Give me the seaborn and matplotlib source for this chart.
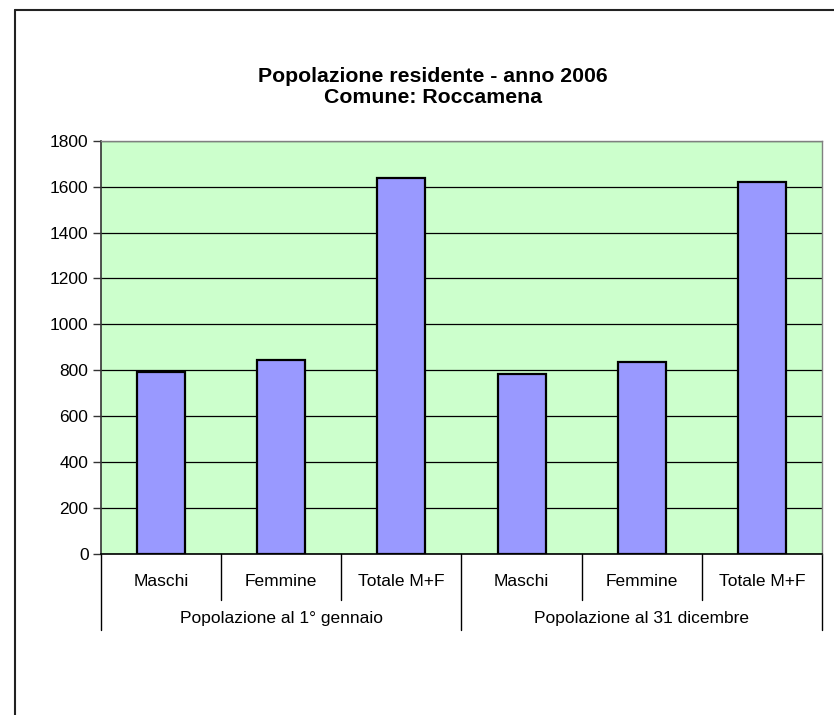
import matplotlib.pyplot as plt
import matplotlib.lines as mlines
import pandas as pd
import seaborn as sns

# data
gruppi = ["Popolazione al 1° gennaio", "Popolazione al 31 dicembre"]
sessi = ["Maschi", "Femmine", "Totale M+F"]
valori_inizio = [791, 846, 1637]
valori_fine = [783, 838, 1621]
yticks = [0, 200, 400, 600, 800, 1000, 1200, 1400, 1600, 1800]

rows = []
for g, vals in zip(gruppi, [valori_inizio, valori_fine]):
    for s, v in zip(sessi, vals):
        rows.append({"gruppo": g, "sesso": s, "chiave": g + " | " + s, "valore": v})
df = pd.DataFrame(rows)

sns.set_style("white")
plt.rcParams["font.family"] = ["Liberation Sans", "DejaVu Sans"]
plt.rcParams["text.color"] = "black"
plt.rcParams["ytick.labelcolor"] = "black"

fig = plt.figure(figsize=(8.34, 7.15), dpi=100)
ax = fig.add_axes([101 / 834, 1 - 554 / 715, 721 / 834, 413.3 / 715])
ax.set_facecolor("#CCFFCC")

sns.barplot(data=df, x="chiave", y="valore", order=list(df["chiave"]),
            color="#9999FF", saturation=1, width=0.4, edgecolor="black",
            linewidth=1.6, ax=ax, zorder=3)

ax.set_xlim(-0.5, len(df) - 0.5)
ax.set_ylim(0, 1800)
ax.set_yticks(yticks)
ax.set_yticklabels([str(t) for t in yticks], fontsize=12.5, color="black")
ax.yaxis.grid(True, color="black", linewidth=0.9, zorder=1)
ax.set_axisbelow(True)
ax.tick_params(axis="y", which="both", left=True, length=6, width=1, color="#333333", pad=3)
ax.set_xticks([])
ax.set_xlabel("")
ax.set_ylabel("")
for side in ["top", "right"]:
    ax.spines[side].set_color("#808080")
    ax.spines[side].set_linewidth(1)
ax.spines["left"].set_color("#333333")
ax.spines["left"].set_linewidth(1.2)
ax.spines["bottom"].set_color("black")
ax.spines["bottom"].set_linewidth(1.2)

# two-level category axis
tr = ax.get_xaxis_transform()
h = 413.3
for i, row in df.iterrows():
    ax.text(i, -28 / h, row["sesso"], transform=tr, ha="center", va="center",
            fontsize=12.5, color="black")
for k in range(len(df) + 1):
    lungo = k % len(sessi) == 0
    y_end = -76 / h if lungo else -46 / h
    ax.plot([k - 0.5, k - 0.5], [0, y_end], transform=tr, color="black",
            linewidth=1, clip_on=False)
for j, g in enumerate(gruppi):
    centro = j * len(sessi) + (len(sessi) - 1) / 2
    ax.text(centro, -64 / h, g, transform=tr, ha="center", va="center",
            fontsize=12.5, color="black")

fig.text(433 / 834, 1 - 87 / 715,
         "Popolazione residente - anno 2006\nComune: Roccamena",
         ha="center", va="center", fontsize=15.3, fontweight="bold",
         linespacing=1.15, color="black")

# chart area border (extends beyond the image on right and bottom)
fig.add_artist(mlines.Line2D([14.5 / 834, 14.5 / 834], [0, 1 - 9.5 / 715],
                             transform=fig.transFigure, color="#222222", linewidth=1.5))
fig.add_artist(mlines.Line2D([14.5 / 834, 1], [1 - 9.5 / 715, 1 - 9.5 / 715],
                             transform=fig.transFigure, color="#222222", linewidth=1.5))

fig.savefig("out.png", dpi=100)
